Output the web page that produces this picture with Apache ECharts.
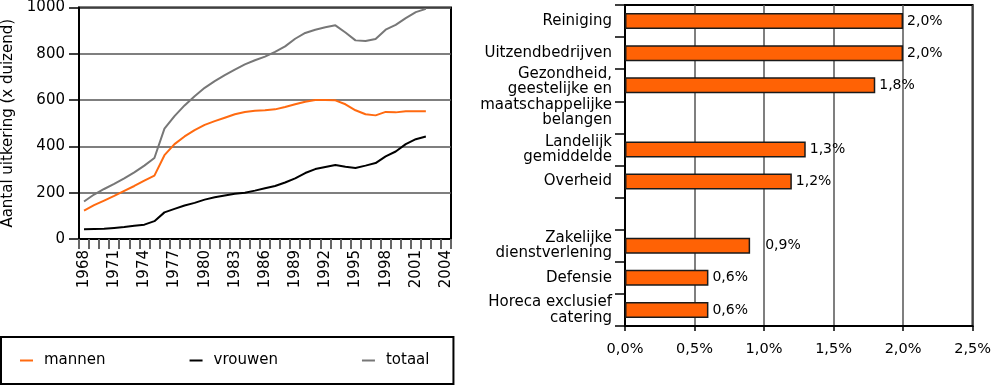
<!DOCTYPE html>
<html><head><meta charset="utf-8">
<script src="https://cdn.jsdelivr.net/npm/echarts@6/dist/echarts.min.js"></script>
<style>html,body{margin:0;padding:0;background:#fff}#c{width:994px;height:385px}</style>
</head><body><div id="c"></div>
<script>
const years = [];
for (let y = 1968; y <= 2004; y++) years.push(String(y));
const mannen = [123,146,166,186,208,229,252,274,362,410,443,470,493,509,524,539,549,554,556,560,570,582,593,600,600,599,582,556,539,534,549,547,552,552,552];
const vrouwen = [42,43,44,48,52,57,62,77,115,130,145,156,170,180,188,195,200,209,219,229,244,262,285,302,311,320,312,307,317,328,357,378,410,431,443];
const totaal = [162,192,216,238,262,288,317,350,477,531,577,617,653,682,708,732,754,772,788,808,832,865,890,904,915,923,892,858,855,864,904,925,954,980,994];

const sectors = ['Reiniging','Uitzendbedrijven','Gezondheid,\ngeestelijke en\nmaatschappelijke\nbelangen',' ','Landelijk\ngemiddelde','Overheid','  ','Zakelijke\ndienstverlening','Defensie','Horeca exclusief\ncatering'];
const percent = [2.0,2.0,1.8,null,1.3,1.2,null,0.9,0.6,0.6];

const FONT = 'DejaVu Sans';
const fmtPct = v => v.toFixed(1).replace('.', ',') + '%';

const chart = echarts.init(document.getElementById('c'), null, {renderer: 'canvas'});
chart.setOption({
  animation: false,
  textStyle: {fontFamily: FONT, color: '#000'},
  grid: [
    {left: 72, top: 6, width: 379, height: 233, show: true, borderColor: '#000', borderWidth: 2, backgroundColor: 'transparent'},
    {left: 625, top: 5, width: 350, height: 321, show: true, borderColor: '#000', borderWidth: 2, backgroundColor: 'transparent'}
  ],
  legend: {
    left: 1, top: 337,
    padding: [16, 24, 16, 19],
    borderColor: '#000', borderWidth: 2,
    itemGap: 84, itemWidth: 13, itemHeight: 2,
    icon: 'rect',
    textStyle: {fontFamily: FONT, fontSize: 15, color: '#000', padding: [0,0,0,6]},
    data: ['mannen','vrouwen','totaal']
  },
  xAxis: [
    {type: 'category', gridIndex: 0, data: years, boundaryGap: true,
     axisLine: {lineStyle: {color: '#000', width: 2}},
     axisTick: {show: true, interval: 0, length: 10, lineStyle: {color: '#666', width: 2}},
     axisLabel: {interval: 2, rotate: 90, margin: 11, fontSize: 15, color: '#000', fontFamily: FONT},
     splitLine: {show: false}},
    {type: 'value', gridIndex: 1, min: 0, max: 2.5, interval: 0.5,
     axisLine: {show: true, lineStyle: {color: '#000', width: 2}},
     axisTick: {show: true, length: 5, lineStyle: {color: '#000', width: 1.5}},
     axisLabel: {margin: 16, fontSize: 14.5, color: '#000', fontFamily: FONT, formatter: v => fmtPct(v)},
     splitLine: {show: true, lineStyle: {color: '#555', width: 1.5}}}
  ],
  yAxis: [
    {type: 'value', gridIndex: 0, min: 0, max: 1000, interval: 200,
     name: 'Aantal uitkering (x duizend)', nameLocation: 'middle', nameGap: 63, nameRotate: 90,
     nameTextStyle: {fontSize: 15, color: '#000', fontFamily: FONT},
     axisLine: {show: true, lineStyle: {color: '#000', width: 2}},
     axisTick: {show: true, length: 10, lineStyle: {color: '#000', width: 1.5}},
     axisLabel: {margin: 14, fontSize: 15, color: '#000', fontFamily: FONT, formatter: v => String(v)},
     splitLine: {show: true, lineStyle: {color: '#555', width: 1.5}}},
    {type: 'category', gridIndex: 1, inverse: true,
     data: sectors,
     axisLine: {show: true, lineStyle: {color: '#000', width: 2}},
     axisTick: {show: true, interval: 0, length: 10, lineStyle: {color: '#000', width: 1.5}},
     axisLabel: {interval: 0, margin: 13, fontSize: 15, lineHeight: 15.5, color: '#000', fontFamily: FONT, align: 'right',
       formatter: (v, i) => i === 2 ? '{sp| }\n' + v.split('\n').map(s => '{g|' + s + '}').join('\n') : v,
       rich: {
         sp: {fontSize: 15, lineHeight: 24, fontFamily: FONT},
         g: {fontSize: 15, lineHeight: 15.5, fontFamily: FONT, color: '#000', align: 'right'}
       }},
     splitLine: {show: false}}
  ],
  series: [
    {name: 'mannen', type: 'line', xAxisIndex: 0, yAxisIndex: 0, data: mannen, symbol: 'none',
     lineStyle: {color: '#FF6A10', width: 2}, itemStyle: {color: '#FF6A10'}},
    {name: 'vrouwen', type: 'line', xAxisIndex: 0, yAxisIndex: 0, data: vrouwen, symbol: 'none',
     lineStyle: {color: '#000', width: 2}, itemStyle: {color: '#000'}},
    {name: 'totaal', type: 'line', xAxisIndex: 0, yAxisIndex: 0, data: totaal, symbol: 'none',
     lineStyle: {color: '#777', width: 2}, itemStyle: {color: '#777'}},
    {name: 'pct', type: 'bar', xAxisIndex: 1, yAxisIndex: 1, barWidth: 16,
     data: percent.map((v, i) => v === null ? '-' : {value: v, label: {distance: i === 7 ? 15 : 4}}),
     itemStyle: {color: '#FF6205', borderColor: '#1a1a1a', borderWidth: 1.5},
     label: {show: true, position: 'right', fontSize: 14, color: '#000', fontFamily: FONT,
             formatter: p => fmtPct(p.value)}}
  ]
});
</script>
</body></html>
